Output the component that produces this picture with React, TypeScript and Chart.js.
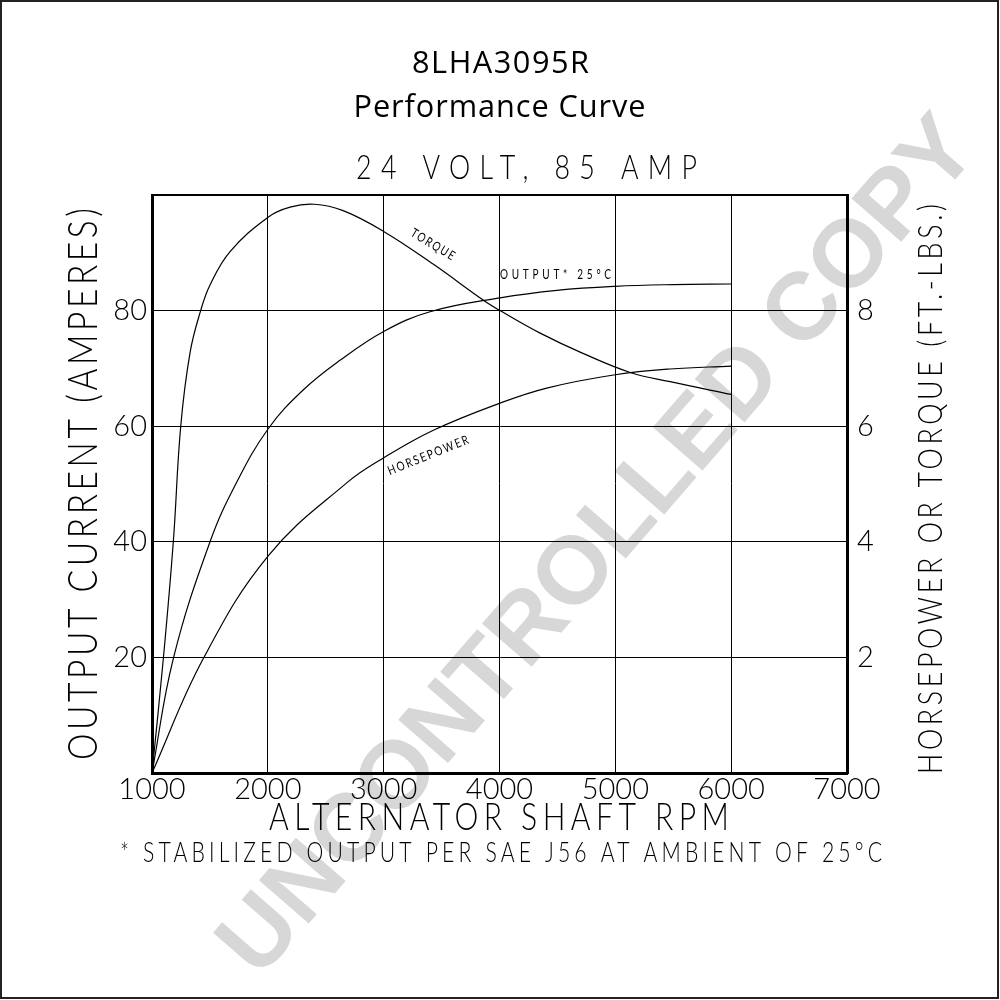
import React, { useEffect, useRef } from "react";
import { Chart, registerables } from "chart.js";

Chart.register(...registerables);

// ---- data (left axis: amperes; right axis: hp / ft-lbs) ----
const OUTPUT_RPM = [1000, 1184, 1501, 1731, 2005, 2307, 2623, 3000, 3400, 4005, 4495, 4998, 5500, 6000];
const OUTPUT_AMPS = [0, 19.8, 40, 50.3, 59.6, 66.3, 71.4, 76.4, 79.8, 82.2, 83.5, 84.2, 84.5, 84.6];

const TORQUE_RPM = [1000, 1098, 1184, 1248, 1330, 1420, 1500, 1674, 2005, 2192, 2400, 2650, 3000, 3430, 3861, 4005, 4351, 4720, 5128, 5473, 6000];
const TORQUE_FTLB = [0, 1.98, 4.0, 6.0, 7.29, 8.0, 8.44, 9.02, 9.62, 9.79, 9.84, 9.73, 9.37, 8.8, 8.18, 8.0, 7.61, 7.26, 6.93, 6.77, 6.55];

const HP_RPM = [1000, 1443, 2005, 2681, 2998, 3429, 4005, 4408, 4998, 5473, 6000];
const HP_VALUES = [0, 1.98, 3.76, 5.02, 5.45, 5.93, 6.4, 6.66, 6.89, 6.99, 7.04];

const X_TICKS = [1000, 2000, 3000, 4000, 5000, 6000, 7000];
const LEFT_TICK_LABELS = ["20", "40", "60", "80"];
const RIGHT_TICK_LABELS = ["2", "4", "6", "8"];

const TITLE = "8LHA3095R";
const SUBTITLE = "Performance Curve";
const RATING = "24 VOLT, 85 AMP";
const X_TITLE = "ALTERNATOR SHAFT RPM";
const Y_TITLE = "OUTPUT CURRENT (AMPERES)";
const Y2_TITLE = "HORSEPOWER OR TORQUE (FT.-LBS.)";
const FOOTNOTE = "* STABILIZED OUTPUT PER SAE J56 AT AMBIENT OF 25°C";
const OUTPUT_LABEL = "OUTPUT* 25°C";
const TORQUE_LABEL = "TORQUE";
const HP_LABEL = "HORSEPOWER";
const WATERMARK = "UNCONTROLLED COPY";

const CAD_FAMILY = 'Lato, "DejaVu Sans", sans-serif';
const CAD_WEIGHT = "300";
const CAP = 0.716;

function drawText(
  ctx: CanvasRenderingContext2D,
  text: string,
  cx: number,
  cy: number,
  opts: { angle?: number; cap: number; hScale?: number; width?: number; family?: string; weight?: string; color?: string }
) {
  const angle = opts.angle || 0;
  const hScale = opts.hScale || 1;
  const size = opts.cap / CAP;
  ctx.save();
  ctx.translate(cx, cy);
  ctx.rotate(angle);
  ctx.scale(hScale, 1);
  ctx.font = `${opts.weight || CAD_WEIGHT} ${size}px ${opts.family || CAD_FAMILY}`;
  (ctx as any).letterSpacing = "0px";
  const w0 = ctx.measureText(text).width;
  const n = Array.from(text).length;
  let sp = 0;
  if (opts.width && n > 1) sp = (opts.width / hScale - w0) / (n - 1);
  (ctx as any).letterSpacing = sp + "px";
  ctx.fillStyle = opts.color || "#000";
  ctx.textAlign = "left";
  ctx.textBaseline = "alphabetic";
  ctx.fillText(text, -(w0 + sp * (n - 1)) / 2, opts.cap / 2);
  ctx.restore();
}

const decor = {
  id: "decor",
  beforeDraw(chart: any) {
    const ctx: CanvasRenderingContext2D = chart.ctx;
    ctx.save();
    // watermark
    ctx.translate(600, 548);
    ctx.rotate((-49 * Math.PI) / 180);
    ctx.font = "bold 100px 'Liberation Sans', Arial, sans-serif";
    const w = ctx.measureText(WATERMARK).width;
    const fs = (100 * 1100) / w;
    ctx.font = `bold ${fs}px 'Liberation Sans', Arial, sans-serif`;
    ctx.fillStyle = "#d7d7d7";
    ctx.textAlign = "center";
    ctx.textBaseline = "middle";
    ctx.fillText(WATERMARK, 0, 0);
    ctx.restore();
  },
  afterDraw(chart: any) {
    const ctx: CanvasRenderingContext2D = chart.ctx;
    // frame
    ctx.save();
    ctx.strokeStyle = "#222";
    ctx.lineWidth = 2;
    ctx.strokeRect(1, 1, 997, 997);
    ctx.restore();

    const titleFam = '"Open Sans", "DejaVu Sans", sans-serif';
    drawText(ctx, TITLE, 500.5, 62, { cap: 22, width: 177, family: titleFam, weight: "400" });
    drawText(ctx, SUBTITLE, 499.5, 106, { cap: 22, width: 292, family: titleFam, weight: "400" });

    drawText(ctx, RATING, 526.5, 167, { cap: 24, hScale: 0.8, width: 341 });
    drawText(ctx, X_TITLE, 499, 816.5, { cap: 27, hScale: 0.8, width: 460 });
    drawText(ctx, FOOTNOTE, 501, 852.5, { cap: 19, hScale: 0.8, width: 762 });
    drawText(ctx, Y_TITLE, 82, 484, { cap: 30, hScale: 0.8, width: 552, angle: -Math.PI / 2 });
    drawText(ctx, Y2_TITLE, 930, 489, { cap: 24, hScale: 0.8, width: 570, angle: -Math.PI / 2 });

    drawText(ctx, OUTPUT_LABEL, 555.5, 274.5, { cap: 9, hScale: 0.8, width: 111, weight: "400" });
    drawText(ctx, TORQUE_LABEL, 433, 244, { cap: 9, hScale: 0.8, width: 49, angle: (31 * Math.PI) / 180, weight: "400" });
    drawText(ctx, HP_LABEL, 428, 455, { cap: 9, hScale: 0.8, width: 86, angle: (-21.8 * Math.PI) / 180, weight: "400" });
  },
};

function toPoints(xs: number[], ys: number[]) {
  return xs.map((x, i) => ({ x, y: ys[i] }));
}

export default function App() {
  const ref = useRef<HTMLCanvasElement | null>(null);
  useEffect(() => {
    if (!ref.current) return;
    const tickFont = { family: CAD_FAMILY, size: 29, weight: CAD_WEIGHT as any };
    const line = {
      borderColor: "#000",
      borderWidth: 1.2,
      pointRadius: 0,
      fill: false,
      tension: 0.4,
    };
    const chart = new Chart(ref.current, {
      type: "line",
      data: {
        datasets: [
          { label: "Output", data: toPoints(OUTPUT_RPM, OUTPUT_AMPS), yAxisID: "y", ...line },
          { label: "Torque", data: toPoints(TORQUE_RPM, TORQUE_FTLB), yAxisID: "y2", ...line },
          { label: "Horsepower", data: toPoints(HP_RPM, HP_VALUES), yAxisID: "y2", ...line },
        ],
      },
      options: {
        responsive: false,
        animation: false,
        events: [],
        layout: { padding: { top: 195, left: 0, right: 0, bottom: 0 } },
        plugins: { legend: { display: false }, tooltip: { enabled: false }, title: { display: false } },
        scales: {
          x: {
            type: "linear",
            min: X_TICKS[0],
            max: X_TICKS[X_TICKS.length - 1],
            afterBuildTicks: (s: any) => {
              s.ticks = X_TICKS.map((v) => ({ value: v }));
            },
            ticks: { callback: (v: any) => String(v), font: tickFont, color: "#000", padding: -1, maxRotation: 0, autoSkip: false },
            grid: { color: "#000", lineWidth: 1, drawTicks: false },
            border: { color: "#000", width: 3 },
            afterFit: (s: any) => {
              s.height = 227;
            },
          },
          y: {
            position: "left",
            min: 0,
            max: 100,
            ticks: {
              stepSize: 20,
              callback: (v: any) => (LEFT_TICK_LABELS.includes(String(v)) ? String(v) : ""),
              font: tickFont,
              color: "#000",
              padding: 5,
            },
            grid: {
              color: "#000",
              lineWidth: (c: any) => (c.tick && c.tick.value === 100 ? 2 : 1),
              drawTicks: false,
            },
            border: { color: "#000", width: 3 },
            afterFit: (s: any) => {
              s.width = 152;
            },
          },
          y2: {
            position: "right",
            min: 0,
            max: 10,
            ticks: {
              stepSize: 2,
              callback: (v: any) => (RIGHT_TICK_LABELS.includes(String(v)) ? String(v) : ""),
              font: tickFont,
              color: "#000",
              padding: 10,
            },
            grid: { drawOnChartArea: false, drawTicks: false },
            border: { color: "#000", width: 3 },
            afterFit: (s: any) => {
              s.width = 153;
            },
          },
        },
      },
      plugins: [decor],
    });
    return () => chart.destroy();
  }, []);
  return (
    <div style={{ position: "absolute", left: 0, top: 0, width: 1000, height: 1000, background: "#fff" }}>
      <canvas ref={ref} width={1000} height={1000} style={{ display: "block" }} />
    </div>
  );
}
